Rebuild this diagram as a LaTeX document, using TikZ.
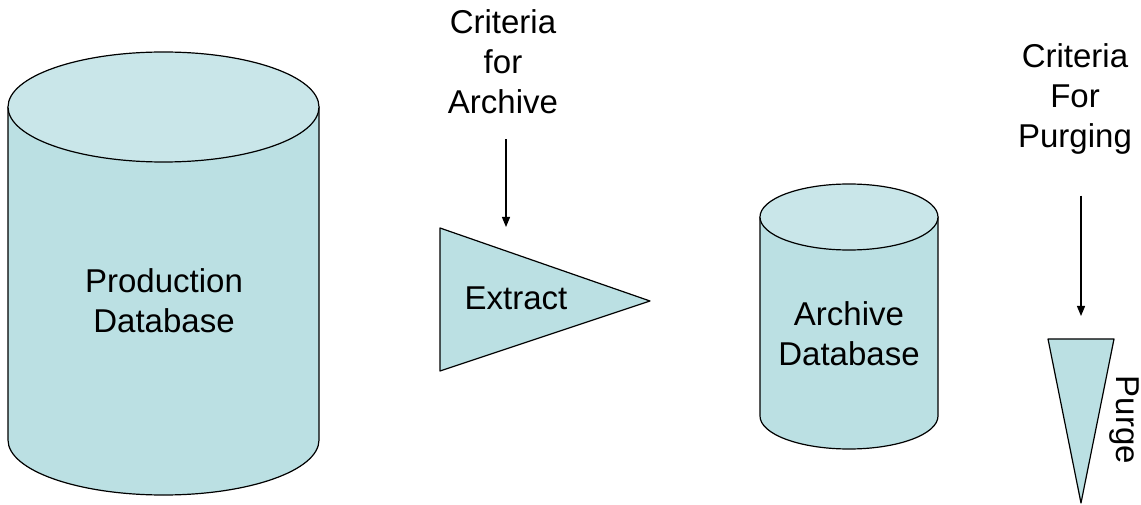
\documentclass[tikz,border=0pt]{standalone}
\usepackage{fontspec}
\setmainfont{Liberation Sans}
\usetikzlibrary{arrows.meta}

\definecolor{dbside}{HTML}{BBE0E3}
\definecolor{dbtop}{HTML}{C9E6E9}

\begin{document}
\begin{tikzpicture}[
  x=1pt, y=1pt,
  lbl/.style={font=\fontsize{33}{40}\selectfont, align=center, inner sep=0pt},
  outline/.style={draw=black, line width=1.2pt, line join=round},
  arrow/.style={-{Triangle[length=10pt,width=8pt]}, line width=1.2pt}
]
\useasboundingbox (0,0) rectangle (1141,504);

% production database cylinder
\path[outline, fill=dbside] (8,397) -- (8,64)
  arc[start angle=180, end angle=360, x radius=155.5, y radius=55] -- (319,397) -- cycle;
\path[outline, fill=dbtop] (163.5,397) ellipse[x radius=155.5, y radius=55];

% archive database cylinder
\path[outline, fill=dbside] (760,287) -- (760,88)
  arc[start angle=180, end angle=360, x radius=89, y radius=33] -- (938,287) -- cycle;
\path[outline, fill=dbtop] (849,287) ellipse[x radius=89, y radius=33];

% extract and purge wedges
\path[outline, fill=dbside] (440,276) -- (650,203) -- (440,133) -- cycle;
\path[outline, fill=dbside] (1048,165) -- (1114,165) -- (1081,1) -- cycle;

\coordinate (extIn) at (506,277);
\coordinate (purgeIn) at (1081,188);

\node[lbl, anchor=north] (prodDB) at (164,235.6) {Production\\Database};
\node[lbl, anchor=north] (archDB) at (849,202.6) {Archive\\Database};
\node[lbl, anchor=base] (extract) at (516,194) {Extract};
\node[lbl, anchor=base, rotate=-90] (purge) at (1116,84) {Purge};

\node[lbl, anchor=north] (critArch) at (503,494.6) {Criteria\\for\\Archive};
\node[lbl, anchor=north] (critPurge) at (1075,460.6) {Criteria\\For\\Purging};

\draw[arrow] ([xshift=3pt,yshift=-25pt]critArch.south) -- (extIn);
\draw[arrow] ([xshift=6pt,yshift=-41pt]critPurge.south) -- (purgeIn);

\end{tikzpicture}
\end{document}
